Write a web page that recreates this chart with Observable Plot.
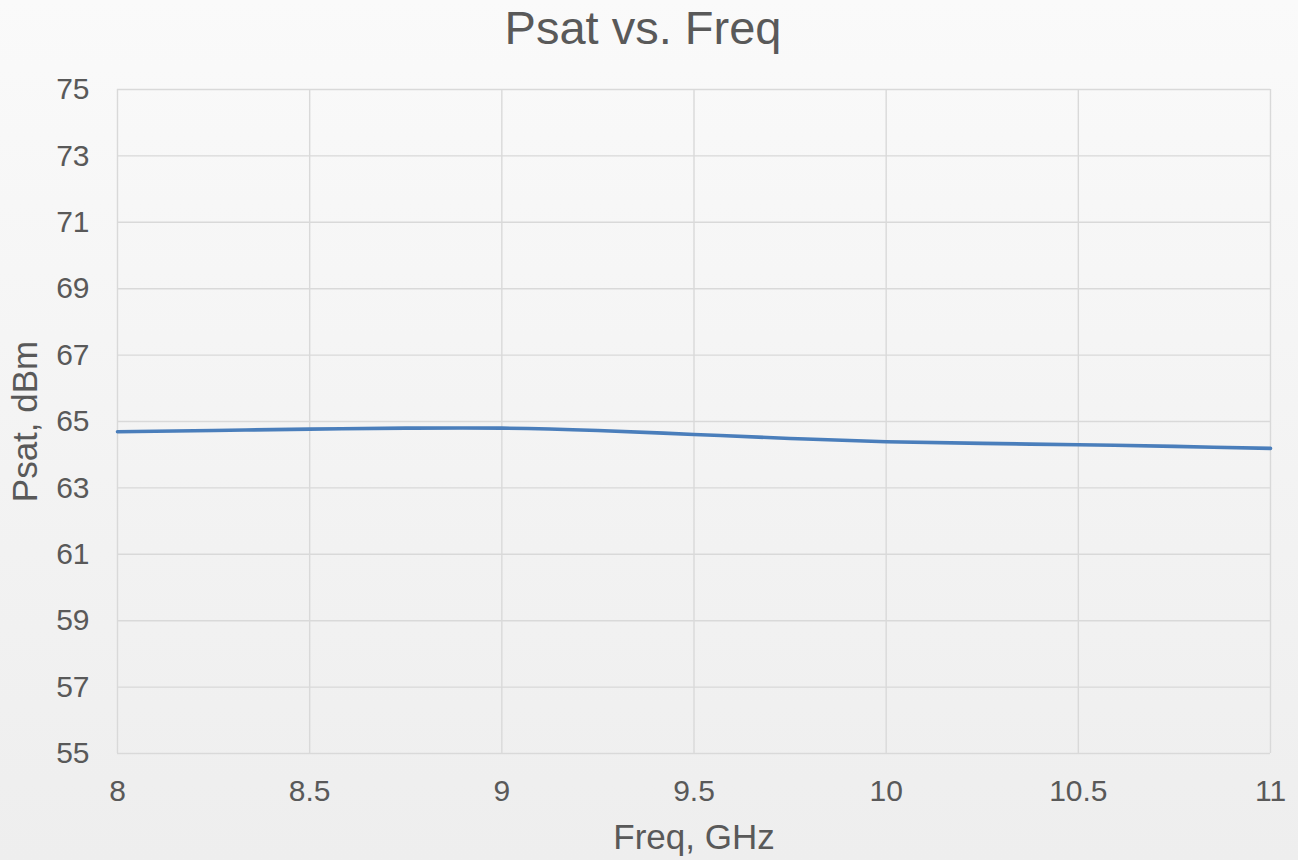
<!DOCTYPE html>
<html>
<head>
<meta charset="utf-8">
<script src="https://cdn.jsdelivr.net/npm/d3@7"></script>
<script src="https://cdn.jsdelivr.net/npm/@observablehq/plot@0.6"></script>
<style>
  html, body { margin: 0; padding: 0; }
  body {
    width: 1298px; height: 860px; overflow: hidden;
    background: linear-gradient(to bottom, #fafafa 0%, #f3f3f3 55%, #eeeeee 100%);
    font-family: "Liberation Sans", Arial, sans-serif;
  }
  #chart svg { display: block; background: transparent; }
</style>
</head>
<body>
<div id="chart"></div>
<script>
const title = "Psat vs. Freq";
const xLabel = "Freq, GHz";
const yLabel = "Psat, dBm";
const freq = [8, 8.25, 8.5, 8.75, 9, 9.25, 9.5, 9.75, 10, 10.25, 10.5, 10.75, 11];
const psat = [64.69, 64.73, 64.77, 64.80, 64.80, 64.73, 64.61, 64.49, 64.39, 64.34, 64.30, 64.25, 64.19];
const xTicks = [8, 8.5, 9, 9.5, 10, 10.5, 11];
const yTicks = [55, 57, 59, 61, 63, 65, 67, 69, 71, 73, 75];

const data = freq.map((f, i) => ({f, p: psat[i]}));
const textColor = "#595959";
const gridColor = "#d9d9d9";

const chart = Plot.plot({
  width: 1298,
  height: 860,
  marginLeft: 117,
  marginRight: 28,
  marginTop: 89,
  marginBottom: 107,
  style: {background: "transparent", fontFamily: "'Liberation Sans', Arial, sans-serif", color: textColor},
  x: {domain: [8, 11]},
  y: {domain: [55, 75]},
  marks: [
    Plot.gridX(xTicks, {stroke: gridColor, strokeOpacity: 1, strokeWidth: 1.4}),
    Plot.gridY(yTicks, {stroke: gridColor, strokeOpacity: 1, strokeWidth: 1.4}),
    Plot.axisX(xTicks, {tickSize: 0, tickPadding: 26, fontSize: 30, fill: textColor, label: null, tickFormat: d => String(d)}),
    Plot.axisY(yTicks, {tickSize: 0, tickPadding: 28, fontSize: 30, fill: textColor, label: null, tickFormat: d => String(d)}),
    Plot.line(data, {x: "f", y: "p", stroke: "#4a7ebb", strokeWidth: 3.6, curve: "catmull-rom"}),
    Plot.text([xLabel], {text: d => d, frameAnchor: "bottom", textAnchor: "middle", lineAnchor: "middle", dy: 84, fontSize: 35, fill: textColor}),
    Plot.text([yLabel], {text: d => d, frameAnchor: "left", textAnchor: "middle", lineAnchor: "middle", rotate: -90, dx: -91.5, fontSize: 35, fill: textColor}),
    Plot.text([title], {text: d => d, frameAnchor: "top", textAnchor: "middle", lineAnchor: "middle", dy: -61, dx: -51, fontSize: 47, fill: textColor})
  ]
});
document.getElementById("chart").appendChild(chart);
</script>
</body>
</html>
